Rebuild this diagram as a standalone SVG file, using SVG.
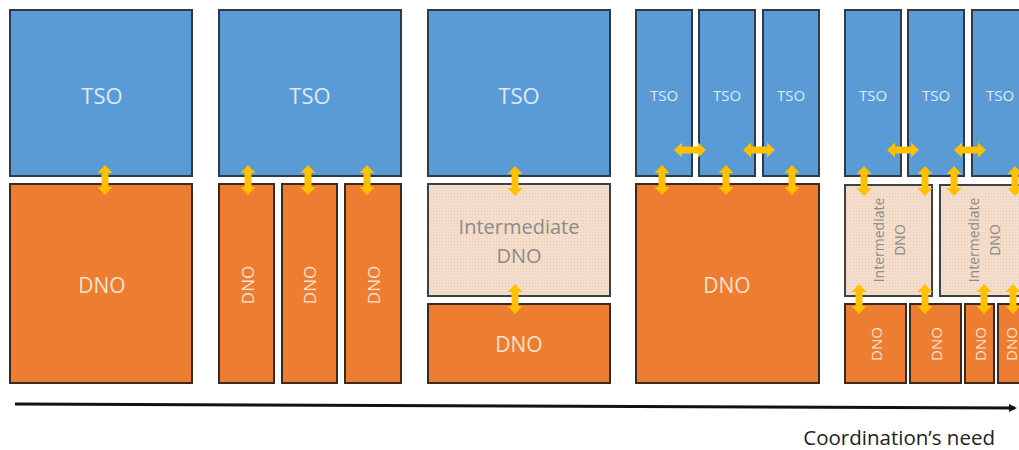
<svg xmlns="http://www.w3.org/2000/svg" xmlns:xlink="http://www.w3.org/1999/xlink" width="1019" height="450" viewBox="0 0 1019 450">
<style>
.tso{fill:#5B9BD5;stroke:#2E3A48;stroke-width:2}
.dno{fill:#ED7D31;stroke:#3A2A20;stroke-width:2}
.mid{fill:url(#dots);stroke:#404040;stroke-width:2}
.tt{font-family:"Open Sans","Liberation Sans",sans-serif;fill:#DDEBF7;text-anchor:middle;dominant-baseline:central}
.dt{font-family:"Open Sans","Liberation Sans",sans-serif;fill:#FBE2CF;text-anchor:middle;dominant-baseline:central}
.it{font-family:"Open Sans","Liberation Sans",sans-serif;fill:#8E8A86;text-anchor:middle;dominant-baseline:central}
.arr{fill:#FFC000}
</style>
<defs>
<pattern id="dots" width="3" height="3" patternUnits="userSpaceOnUse">
<rect width="3" height="3" fill="#F4DECB"/>
<rect x="1" y="1" width="1" height="1" fill="#E6CDB6"/>
</pattern>
<path id="av" class="arr" d="M0,-15 L7.5,-7 L3.5,-7 L3.5,7 L7.5,7 L0,15 L-7.5,7 L-3.5,7 L-3.5,-7 L-7.5,-7 Z"/>
<path id="ah" class="arr" d="M-16,0 L-8,-7.5 L-8,-3.5 L8,-3.5 L8,-7.5 L16,0 L8,7.5 L8,3.5 L-8,3.5 L-8,7.5 Z"/>
<marker id="axhead" markerWidth="8" markerHeight="8" refX="6" refY="4" orient="auto" markerUnits="userSpaceOnUse">
<path d="M0,0 L8,4 L0,8 Z" fill="#111"/>
</marker>
</defs>
<rect width="1019" height="450" fill="#FFFFFF"/>

<!-- Column 1 -->
<g id="c1-tso"><rect class="tso" x="10" y="10" width="182" height="166"/><text class="tt" x="102" y="95" font-size="22">TSO</text></g>
<g id="c1-dno"><rect class="dno" x="10" y="184" width="182" height="199"/><text class="dt" x="102" y="285" font-size="21">DNO</text></g>

<!-- Column 2 -->
<g id="c2-tso"><rect class="tso" x="219" y="10" width="182" height="166"/><text class="tt" x="310" y="95" font-size="22">TSO</text></g>
<g id="c2-dno1"><rect class="dno" x="219" y="184" width="55" height="199"/><text class="dt" font-size="17" transform="translate(247,285) rotate(-90)">DNO</text></g>
<g id="c2-dno2"><rect class="dno" x="282" y="184" width="55" height="199"/><text class="dt" font-size="17" transform="translate(309,285) rotate(-90)">DNO</text></g>
<g id="c2-dno3"><rect class="dno" x="345" y="184" width="56" height="199"/><text class="dt" font-size="17" transform="translate(373,285) rotate(-90)">DNO</text></g>

<!-- Column 3 -->
<g id="c3-tso"><rect class="tso" x="428" y="10" width="182" height="166"/><text class="tt" x="519" y="95" font-size="22">TSO</text></g>
<g id="c3-int"><rect class="mid" x="428" y="184" width="182" height="112"/><text class="it" x="519" y="226" font-size="20">Intermediate</text><text class="it" x="519" y="255" font-size="20">DNO</text></g>
<g id="c3-dno"><rect class="dno" x="428" y="304" width="182" height="79"/><text class="dt" x="519" y="344" font-size="21">DNO</text></g>

<!-- Column 4 -->
<g id="c4-tso1"><rect class="tso" x="636" y="10" width="56" height="166"/><text class="tt" x="664" y="95" font-size="15">TSO</text></g>
<g id="c4-tso2"><rect class="tso" x="699" y="10" width="56" height="166"/><text class="tt" x="727" y="95" font-size="15">TSO</text></g>
<g id="c4-tso3"><rect class="tso" x="763" y="10" width="56" height="166"/><text class="tt" x="791" y="95" font-size="15">TSO</text></g>
<g id="c4-dno"><rect class="dno" x="636" y="184" width="183" height="199"/><text class="dt" x="727" y="285" font-size="21">DNO</text></g>

<!-- Column 5 -->
<g id="c5-tso1"><rect class="tso" x="845" y="10" width="56" height="166"/><text class="tt" x="873" y="95" font-size="15">TSO</text></g>
<g id="c5-tso2"><rect class="tso" x="908" y="10" width="56" height="166"/><text class="tt" x="936" y="95" font-size="15">TSO</text></g>
<g id="c5-tso3"><rect class="tso" x="972" y="10" width="56" height="166"/><text class="tt" x="1000" y="95" font-size="15">TSO</text></g>
<g id="c5-int1"><rect class="mid" x="845" y="185" width="87" height="111"/><text class="it" font-size="14" transform="translate(878,240) rotate(-90)">Intermediate</text><text class="it" font-size="14" transform="translate(899,240) rotate(-90)">DNO</text></g>
<g id="c5-int2"><rect class="mid" x="940" y="185" width="90" height="111"/><text class="it" font-size="14" transform="translate(973,240) rotate(-90)">Intermediate</text><text class="it" font-size="14" transform="translate(994,240) rotate(-90)">DNO</text></g>
<g id="c5-dno1"><rect class="dno" x="845" y="304" width="61" height="79"/><text class="dt" font-size="15" transform="translate(876,344) rotate(-90)">DNO</text></g>
<g id="c5-dno2"><rect class="dno" x="910" y="304" width="51" height="79"/><text class="dt" font-size="15" transform="translate(936,344) rotate(-90)">DNO</text></g>
<g id="c5-dno3"><rect class="dno" x="965" y="304" width="29" height="79"/><text class="dt" font-size="15" transform="translate(980,344) rotate(-90)">DNO</text></g>
<g id="c5-dno4"><rect class="dno" x="998" y="304" width="30" height="79"/><text class="dt" font-size="15" transform="translate(1011,344) rotate(-90)">DNO</text></g>

<!-- Connectors -->
<g id="connectors">
<use xlink:href="#av" x="105" y="180"/>
<use xlink:href="#av" x="248" y="180"/>
<use xlink:href="#av" x="308" y="180"/>
<use xlink:href="#av" x="367" y="180"/>
<use xlink:href="#av" x="515" y="181"/>
<use xlink:href="#av" x="515" y="299"/>
<use xlink:href="#av" x="662" y="180"/>
<use xlink:href="#av" x="726" y="180"/>
<use xlink:href="#av" x="792" y="180"/>
<use xlink:href="#ah" x="690" y="150"/>
<use xlink:href="#ah" x="759" y="150"/>
<use xlink:href="#av" x="864" y="181"/>
<use xlink:href="#av" x="925" y="181"/>
<use xlink:href="#av" x="954" y="181"/>
<use xlink:href="#av" x="1015" y="181"/>
<use xlink:href="#ah" x="903" y="150"/>
<use xlink:href="#ah" x="970" y="150"/>
<use xlink:href="#av" x="859" y="299"/>
<use xlink:href="#av" x="925" y="299"/>
<use xlink:href="#av" x="984" y="299"/>
<use xlink:href="#av" x="1013" y="299"/>
<line x1="15" y1="404" x2="1015" y2="408" stroke="#111" stroke-width="3" marker-end="url(#axhead)"/>
</g>
<text x="995" y="437" font-family="Open Sans, Liberation Sans, sans-serif" font-size="20.5" fill="#222" text-anchor="end" dominant-baseline="central">Coordination’s need</text>
</svg>
